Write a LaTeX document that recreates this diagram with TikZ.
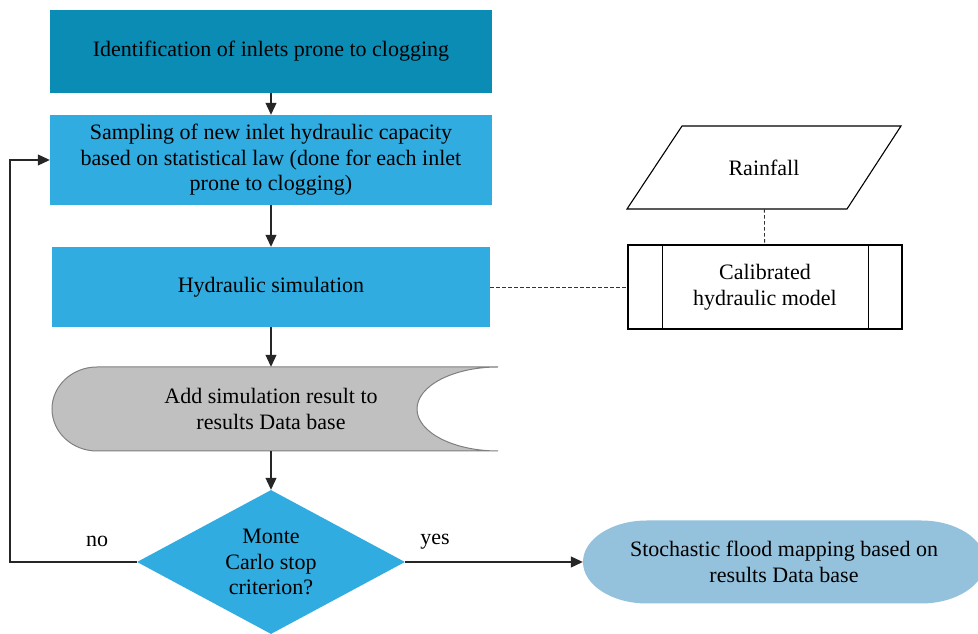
\documentclass[tikz,border=0pt]{standalone}
\usepackage{fontspec}
\setmainfont{Liberation Serif}
\usetikzlibrary{positioning,shapes.geometric,arrows.meta}

\definecolor{tealdark}{HTML}{0A8CB4}
\definecolor{skyblue}{HTML}{30ACE0}
\definecolor{paleblue}{HTML}{94C1DC}
\definecolor{storegray}{HTML}{C0C0C0}
\definecolor{storeline}{HTML}{7F7F7F}

\begin{document}
\begin{tikzpicture}[x=1pt, y=1pt,
    every node/.style={font=\rmfamily\fontsize{22}{25.5}\selectfont, align=center, inner sep=0pt},
    process/.style={rectangle, fill=skyblue, minimum width=442pt},
    flow/.style={-{Triangle[width=11pt,length=12pt]}, line width=1.1pt, black!85},
    link/.style={dash pattern=on 3.5pt off 2.5pt, line width=0.8pt, black!80},
    outline/.style={line width=1.1pt}
  ]
  \useasboundingbox (0,0) rectangle (978,634);

  % main chain
  \node[process, fill=tealdark, minimum height=83pt] (ident) at (271,582.5)
      {Identification of inlets prone to clogging};
  \node[process, minimum height=90pt] (sample) at (271,474)
      {Sampling of new inlet hydraulic capacity\\based on statistical law (done for each inlet\\prone to clogging)};
  \node[process, minimum width=438pt, minimum height=80pt] (sim) at (271,347)
      {Hydraulic simulation};

  % results data base
  \filldraw[fill=storegray, draw=storeline, line width=1pt]
      (498,267) -- (97,267) arc[start angle=90, end angle=270, x radius=45pt, y radius=42pt]
      -- (498,183) arc[start angle=270, end angle=90, x radius=81pt, y radius=42pt] -- cycle;
  \node[minimum width=448pt, minimum height=84pt] (store) at (271,225)
      {Add simulation result to\\results Data base};

  % stop criterion
  \node[diamond, fill=skyblue, shape aspect=1.86, minimum width=268pt, minimum height=144pt] (stop) at (271,72)
      {Monte\\Carlo stop\\criterion?};

  % flood mapping
  \fill[paleblue] (647,113.5) -- (921,113.5)
      arc[start angle=90, end angle=-90, x radius=64pt, y radius=41.5pt]
      -- (647,30.5) arc[start angle=270, end angle=90, x radius=64pt, y radius=41.5pt] -- cycle;
  \node[minimum width=402pt, minimum height=83pt] (flood) at (784,72)
      {Stochastic flood mapping based on\\results Data base};

  % inputs
  \draw[outline] (627,425) -- (847,425) -- (901,508) -- (682,508) -- cycle;
  \node[minimum width=220pt, minimum height=83pt] (rain) at (764,466.5) {Rainfall};
  \node[draw, outline, minimum width=274pt, minimum height=84pt] (model) at (765,347)
      {Calibrated\\hydraulic model};
  \draw[outline] ([xshift=35pt]model.north west) -- ([xshift=35pt]model.south west);
  \draw[outline] ([xshift=-34pt]model.north east) -- ([xshift=-34pt]model.south east);

  % connectors
  \draw[flow] (ident) -- (sample);
  \draw[flow] (sample) -- (sim);
  \draw[flow] (sim) -- (store);
  \draw[flow] (store) -- (stop);
  \draw[link] (sim) -- (model);
  \draw[link] (rain) -- (model);

  \coordinate (loop) at (10,72);
  \draw[flow] (stop.west) -- (loop) |- (sample.west);
  \draw[flow] (stop.east) -- (flood.west);

  \node (nolabel) at (97,93) {no};
  \node (yeslabel) at (435,92) {yes};

\end{tikzpicture}
\end{document}
